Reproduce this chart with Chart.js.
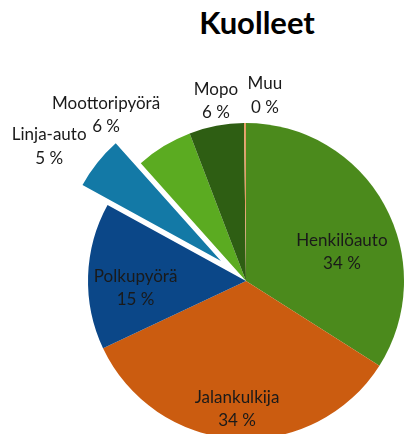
<!DOCTYPE html>
<html>
<head>
<meta charset="utf-8">
<script src="https://cdn.jsdelivr.net/npm/chart.js@4.4.1/dist/chart.umd.min.js"></script>
<style>
  html, body { margin: 0; padding: 0; background: #fff; }
  #wrap { position: relative; width: 404px; height: 434px; overflow: hidden; }
  #title {
    position: absolute; left: 157px; width: 200px; top: 3px;
    text-align: center; font: bold 31px Lato, sans-serif; line-height: 38px; color: #000;
  }
  canvas { position: absolute; left: 0; top: 0; }
</style>
</head>
<body>
<div id="wrap">
  <div id="title">Kuolleet</div>
  <canvas id="chart" width="404" height="434"></canvas>
</div>
<script>
// Tiedot (osuudet %, luettu kuvasta)
const categories = ['Henkilöauto', 'Jalankulkija', 'Polkupyörä', 'Linja-auto', 'Moottoripyörä', 'Mopo', 'Muu'];
const shares     = [34.0, 34.0, 15.0, 5.4, 5.8, 5.6, 0.2];

// Ulkoasu
const colors = ['#4b8a1c', '#cb5c10', '#0b4788', '#1379a6', '#5bab21', '#2e5e13', '#e59d64'];
const EXPLODED = 3;       // Linja-auto irrotettu
const EXPLODE_PX = 32;
// Selitteiden paikat: kulma ylhäältä myötäpäivään (astetta) ja etäisyys säteen kertoimena
const labelAngle = [73, 184, 266.5, 304.4, 319.9, 350.5, 5.8];
const labelDist  = [0.635, 0.81, 0.70, 1.51, 1.375, 1.155, 1.183];

const explodePlugin = {
  id: 'explode',
  afterDatasetUpdate(chart, args) {
    const arc = chart.getDatasetMeta(args.index).data[EXPLODED];
    if (!arc) return;
    const mid = (arc.startAngle + arc.endAngle) / 2;
    arc.x += Math.cos(mid) * EXPLODE_PX;
    arc.y += Math.sin(mid) * EXPLODE_PX;
  }
};

const labelPlugin = {
  id: 'sliceLabels',
  afterDatasetsDraw(chart) {
    const meta = chart.getDatasetMeta(0);
    const ref = meta.data[0];
    const total = shares.reduce((a, b) => a + b, 0);
    const ctx = chart.ctx;
    ctx.save();
    ctx.font = '17px Lato, sans-serif';
    ctx.fillStyle = '#1a1a1a';
    ctx.textAlign = 'center';
    ctx.textBaseline = 'middle';
    categories.forEach((name, i) => {
      const a = labelAngle[i] * Math.PI / 180;
      const d = labelDist[i] * ref.outerRadius;
      const x = ref.x + Math.sin(a) * d;
      const y = ref.y - Math.cos(a) * d;
      const pct = Math.round(shares[i] / total * 100) + ' %';
      ctx.fillText(name, x, y - 11.5);
      ctx.fillText(pct, x, y + 12);
    });
    ctx.restore();
  }
};

new Chart(document.getElementById('chart'), {
  type: 'pie',
  data: {
    labels: categories,
    datasets: [{
      data: shares,
      backgroundColor: colors,
      borderWidth: 0,
      radius: 158,
      clip: false,
    }],
  },
  options: {
    responsive: false,
    animation: false,
    events: [],
    devicePixelRatio: 1,
    layout: { padding: { left: 88, right: 0, top: 128, bottom: 0 } },
    plugins: {
      legend: { display: false },
      title: { display: false },
      tooltip: { enabled: false },
    },
  },
  plugins: [explodePlugin, labelPlugin],
});
</script>
</body>
</html>
